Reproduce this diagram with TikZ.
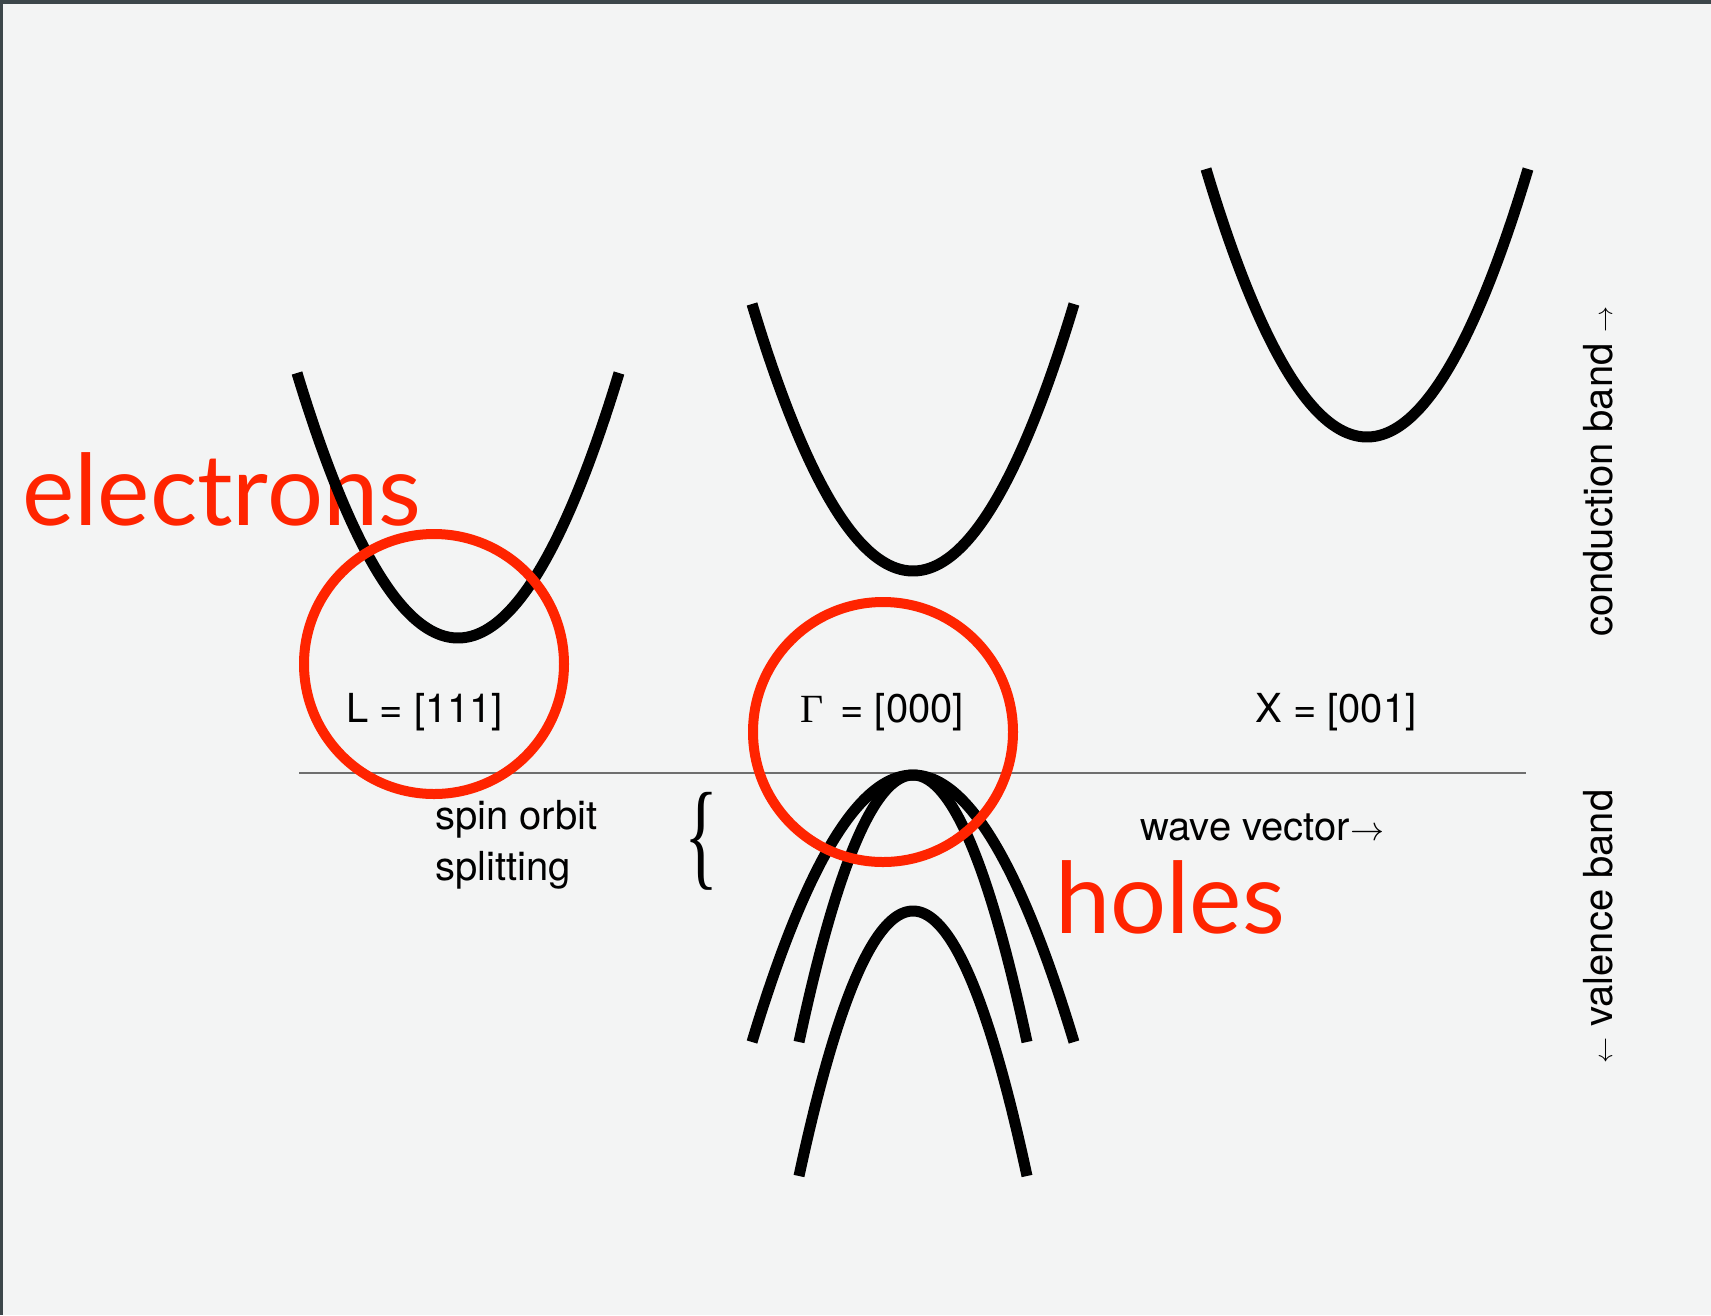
\RequirePackage{fix-cm}
\documentclass[tikz,border=0pt]{standalone}
\usepackage{fontspec}
\usepackage{graphicx}
\setmainfont{TeX Gyre Heros}
\newfontfamily\notefont{Lato}
\newfontfamily\greekfont{Liberation Serif}

\definecolor{pagebg}{RGB}{243,244,244}
\definecolor{frameedge}{RGB}{60,70,74}
\definecolor{marker}{RGB}{255,36,0}
\definecolor{axisgray}{RGB}{110,110,110}

% thin arrows for the axis captions
\newcommand{\capR}[1]{{\fontsize{#1}{#1}\selectfont$\rightarrow$}}
\newcommand{\capL}[1]{{\fontsize{#1}{#1}\selectfont$\leftarrow$}}

\begin{document}
\begin{tikzpicture}[x=1pt,y=-1pt,
  band/.style={line width=11pt, black},
  ring/.style={line width=10pt, draw=marker},
  lbl/.style={font=\fontsize{40}{50}\selectfont, inner sep=0pt, anchor=base west},
  note/.style={font=\notefont\fontsize{99}{112}\selectfont, text=marker, inner sep=0pt, anchor=base west}]

% page
\useasboundingbox (0,0) rectangle (1711,1315);
\fill[pagebg] (0,0) rectangle (1711,1315);
\fill[frameedge] (0,0) rectangle (1711,4);
\fill[frameedge] (0,0) rectangle (3,1315);

% red annotations underneath the bands
\node[note] (electrons) at (22,525) {electrons};
\node[note] (holes) at (1055,933) {holes};

% zero line
\draw[axisgray, line width=2pt] (299,773) coordinate (axisL) -- (1526,773) coordinate (axisR);

% conduction band minima
\draw[band] plot[domain=-161:161, samples=90, smooth] ({458+\x}, {638-265*(\x/161)^2});
\draw[band] plot[domain=-161:161, samples=90, smooth] ({913+\x}, {571-267*(\x/161)^2});
\draw[band] plot[domain=-161:161, samples=90, smooth] ({1367+\x}, {437-268*(\x/161)^2});

% valence bands at Gamma
\draw[band] plot[domain=-161:161, samples=90, smooth] ({913+\x}, {775+267*(\x/161)^2});
\draw[band] plot[domain=-114:114, samples=90, smooth] ({913+\x}, {775+267*(\x/114)^2});
\draw[band] plot[domain=-114:114, samples=90, smooth] ({913+\x}, {911+265*(\x/114)^2});

% labels
\node[lbl] (Lpt) at (346,722) {L = [111]};
\node[lbl] (Gpt) at (800,722) {{\greekfont Γ}\kern6pt\ = [000]};
\node[lbl] (Xpt) at (1255,722) {X = [001]};
\node[lbl] (spin) at (435,829) {spin orbit};
\node[lbl] (split) at (435,880) {splitting};
\node[inner sep=0pt] (brace) at (702,841) {\resizebox*{34pt}{98pt}{\greekfont\{}};
\node[lbl] (wave) at (1140,840) {wave vector\capR{34}};
\node[lbl, rotate=90] (cond) at (1612,637) {conduction band \capR{26}};
\node[lbl, rotate=90] (val) at (1612,1064) {\capL{26} valence band};

% red rings on top
\draw[ring] (434,664) circle[radius=130];
\draw[ring] (883,732) circle[radius=130];
\end{tikzpicture}
\end{document}
